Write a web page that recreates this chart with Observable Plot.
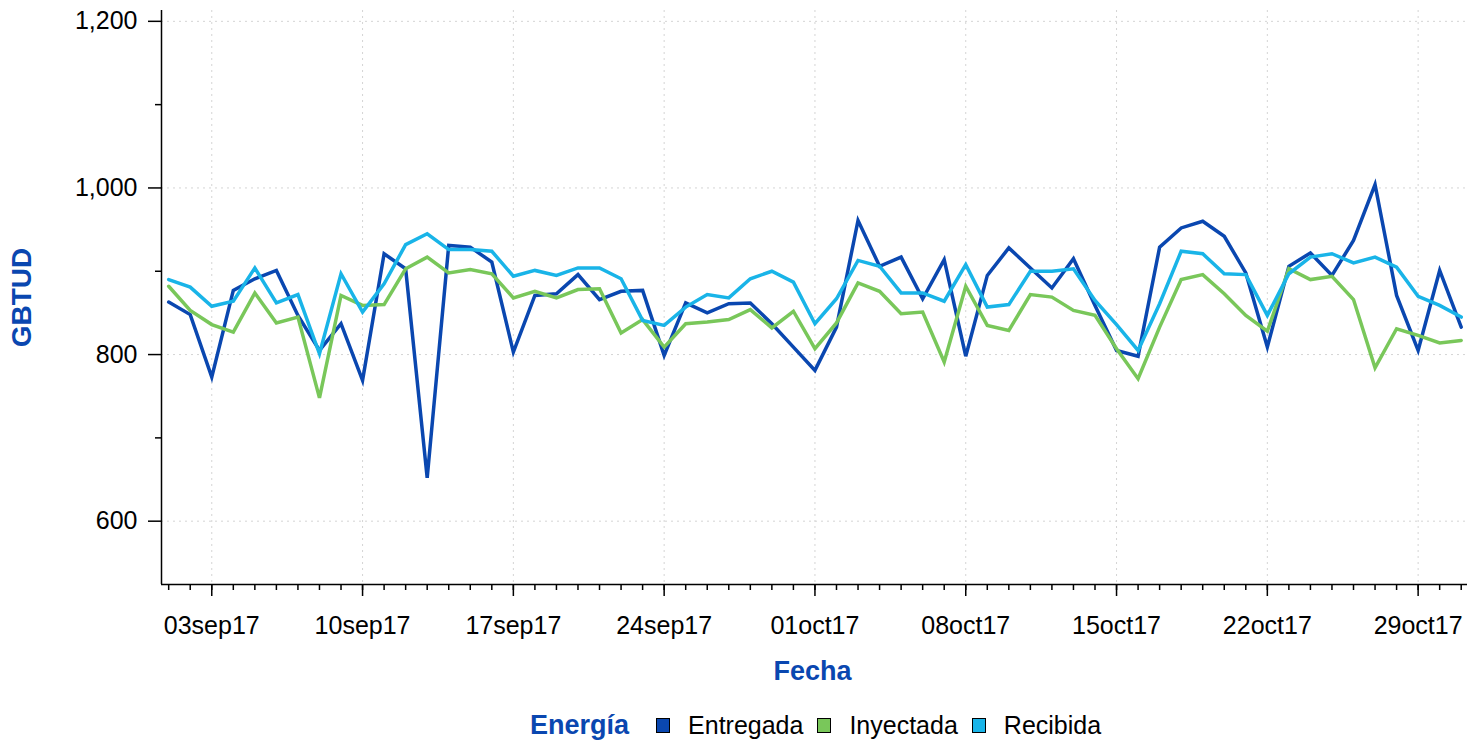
<!DOCTYPE html>
<html>
<head>
<meta charset="utf-8">
<script src="https://cdn.jsdelivr.net/npm/d3@7"></script>
<script src="https://cdn.jsdelivr.net/npm/@observablehq/plot@0.6"></script>
<style>
  html, body { margin: 0; padding: 0; background: #fff; width: 1478px; height: 742px; overflow: hidden; }
  body { font-family: "Liberation Sans", Arial, sans-serif; position: relative; }
  #legend { position: absolute; left: 530px; top: 709px; height: 32px; display: flex; align-items: center; font-size: 25px; color: #000; white-space: nowrap; }
  #legend .title { font-weight: bold; color: #0a47b0; font-size: 27px; margin-right: 27px; }
  #legend .sw { width: 12px; height: 13px; border: 1px solid #000; margin-right: 18px; }
  #legend .lab { margin-right: 14px; }
</style>
</head>
<body>
<div id="chart"></div>
<div id="legend"></div>
<script>
// ---- data ----
const firstDay = new Date(Date.UTC(2017, 8, 1));
const lastDay = new Date(Date.UTC(2017, 9, 31));
const dates = d3.utcDay.range(firstDay, d3.utcDay.offset(lastDay, 1)); // 01sep17 .. 31oct17

const series = ["Entregada", "Inyectada", "Recibida"];
const colors = ["#0a47b0", "#79c75a", "#19b4e8"];

const entregada = [863, 848, 773, 877, 891, 901, 847, 805, 837, 769,
  921, 903, 652, 931, 929, 911, 803, 871, 873, 896,
  866, 876, 877, 799, 862, 850, 861, 862, 837, 809,
  781, 833, 961, 906, 917, 867, 914, 798, 895, 928,
  904, 880, 915, 859, 805, 798, 929, 952, 960, 942,
  898, 809, 906, 922, 895, 937, 1004, 871, 805, 901, 833];

const inyectada = [882, 853, 836, 827, 874, 838, 845, 748, 871, 859,
  860, 903, 917, 898, 902, 897, 868, 876, 868, 878,
  879, 826, 842, 809, 837, 839, 842, 854, 832, 852,
  807, 838, 886, 876, 849, 851, 791, 882, 835, 829,
  872, 869, 853, 847, 807, 771, 833, 890, 896, 873,
  847, 828, 903, 890, 894, 866, 784, 831, 823, 814, 817];

const recibida = [890, 881, 858, 864, 904, 862, 872, 801, 897, 851,
  885, 932, 945, 926, 926, 924, 894, 901, 895, 904,
  904, 891, 841, 835, 857, 872, 868, 891, 900, 887,
  837, 867, 913, 906, 874, 874, 864, 908, 857, 860,
  900, 900, 903, 865, 836, 805, 861, 924, 921, 897,
  896, 847, 897, 917, 921, 910, 917, 905, 870, 859, 845];

const yTicks = [600, 800, 1000, 1200];
const yMinorTicks = [700, 900, 1100];
const xTicks = d3.utcSunday.range(firstDay, d3.utcDay.offset(lastDay, 1)); // 03sep17, 10sep17, ...
const yDomain = [524, 1213];
const xDomain = [d3.utcHour.offset(firstDay, -8), d3.utcHour.offset(lastDay, 7)];

const yTitle = "GBTUD";
const xTitle = "Fecha";
const legendTitle = "Energía";

// ---- table ----
const valuesBySeries = [entregada, inyectada, recibida];
const rows = [];
series.forEach((s, k) => {
  valuesBySeries[k].forEach((v, i) => rows.push({date: dates[i], value: v, series: s}));
});

const blue = "#0a47b0";
const fmtDate = d => d3.utcFormat("%d%b%y")(d).toLowerCase();
const grid = {stroke: "#d4d4d4", strokeOpacity: 1, strokeDasharray: "2,4", strokeWidth: 1};

const chart = Plot.plot({
  width: 1478,
  height: 705,
  marginLeft: 161,
  marginRight: 11,
  marginTop: 10,
  marginBottom: 121,
  style: {fontFamily: "'Liberation Sans', Arial, sans-serif", fontSize: "25px", color: "#000", background: "#fff"},
  x: {type: "utc", domain: xDomain},
  y: {domain: yDomain},
  color: {domain: series, range: colors},
  marks: [
    Plot.gridY(yTicks, grid),
    Plot.gridX(xTicks, grid),
    Plot.line(rows, {x: "date", y: "value", stroke: "series", strokeWidth: 3.5, strokeLinejoin: "miter", strokeMiterlimit: 4}),
    Plot.ruleX([xDomain[0]], {stroke: "#000", strokeWidth: 1.5}),
    Plot.ruleY([yDomain[0]], {stroke: "#000", strokeWidth: 1.5}),
    Plot.axisY(yTicks, {tickSize: 13, tickPadding: 11, tickFormat: d3.format(","), label: null, fontSize: 25, strokeWidth: 1.5}),
    Plot.axisY(yMinorTicks, {tickSize: 6, tickFormat: () => "", label: null, strokeWidth: 1.5}),
    Plot.axisX(xTicks, {tickSize: 12, tickPadding: 20, tickFormat: fmtDate, label: null, fontSize: 25, strokeWidth: 1.5}),
    Plot.axisX(dates, {tickSize: 6, tickFormat: () => "", label: null, strokeWidth: 1.5}),
    Plot.text([yTitle], {frameAnchor: "left", textAnchor: "middle", lineAnchor: "middle", dx: -139, rotate: -90, fontWeight: "bold", fill: blue, fontSize: 28}),
    Plot.text([xTitle], {frameAnchor: "bottom", textAnchor: "middle", lineAnchor: "middle", dy: 87, dx: -2, fontWeight: "bold", fill: blue, fontSize: 27})
  ]
});
document.getElementById("chart").appendChild(chart);

// ---- legend ----
const legend = document.getElementById("legend");
const t = document.createElement("span");
t.className = "title";
t.textContent = legendTitle;
legend.appendChild(t);
series.forEach((s, k) => {
  const sw = document.createElement("span");
  sw.className = "sw";
  sw.style.background = colors[k];
  legend.appendChild(sw);
  const lab = document.createElement("span");
  lab.className = "lab";
  lab.textContent = s;
  legend.appendChild(lab);
});
</script>
</body>
</html>
